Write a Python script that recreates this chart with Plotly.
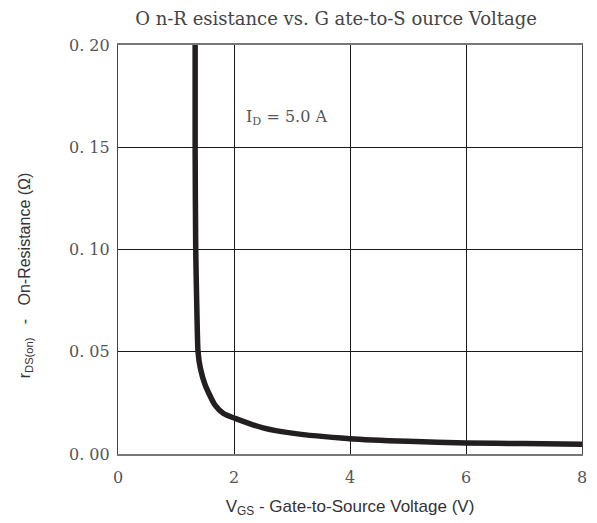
import plotly.graph_objects as go

# curve
VGS = [1.33, 1.33, 1.34, 1.36, 1.38, 1.42, 1.50, 1.67, 1.82, 2.02, 2.5, 3.0, 4.0, 5.0, 6.0, 7.0, 8.0]
RDS = [0.200, 0.150, 0.100, 0.070, 0.050, 0.042, 0.034, 0.024, 0.0198, 0.0174, 0.0128, 0.0102, 0.0075, 0.0062, 0.0054, 0.0051, 0.0048]

X_TICKS = [0, 2, 4, 6, 8]
Y_TICKS = [0.0, 0.05, 0.10, 0.15, 0.20]
Y_TICK_TEXT = ["0. 00", "0. 05", "0. 10", "0. 15", "0. 20"]

SERIF = "DejaVu Serif, Liberation Serif, serif"
SANS = "Liberation Sans, Arial, sans-serif"
GRID = "#1a1a1a"

fig = go.Figure(go.Scatter(
    x=VGS,
    y=RDS,
    mode="lines",
    line=dict(color="#231f20", width=5.5, shape="spline", smoothing=0.6),
    hoverinfo="skip",
    showlegend=False,
))

fig.add_annotation(
    x=2.9, y=0.1646, xref="x", yref="y",
    text="I<sub>D</sub> = 5.0 A",
    showarrow=False,
    bgcolor="white",
    font=dict(family=SERIF, size=16, color="#555555"),
)

# y-axis title placed as an annotation (sits lower than the plot centre)
fig.add_annotation(
    x=0, y=0.437, xref="paper", yref="paper",
    xanchor="center", yanchor="middle", xshift=-93,
    textangle=-90,
    text="r<sub>DS(on)</sub>   -   On-Resistance (Ω)",
    showarrow=False,
    font=dict(family=SANS, size=16, color="#333333"),
)

fig.update_layout(
    width=589,
    height=515,
    paper_bgcolor="white",
    plot_bgcolor="white",
    margin=dict(l=110, r=10, t=37, b=68),
    title=dict(
        text="O n-R esistance vs. G ate-to-S ource Voltage",
        xref="paper", x=0.47, xanchor="center",
        yref="container", y=0.98, yanchor="middle",
        font=dict(family=SERIF, size=18, color="#444444"),
    ),
    xaxis=dict(
        range=[0, 8],
        tickvals=X_TICKS,
        showgrid=True, gridcolor=GRID, gridwidth=1,
        zeroline=False,
        showline=True, linecolor="#777777", linewidth=1.5, mirror=True,
        ticks="outside", ticklen=8, tickcolor="rgba(0,0,0,0)",
        tickfont=dict(family=SERIF, size=16, color="#555555"),
        title=dict(
            text="V<sub>GS</sub> - Gate-to-Source Voltage (V)",
            font=dict(family=SANS, size=17, color="#333333"),
            standoff=14,
        ),
    ),
    yaxis=dict(
        range=[0, 0.2],
        tickvals=Y_TICKS,
        ticktext=Y_TICK_TEXT,
        showgrid=True, gridcolor=GRID, gridwidth=1,
        zeroline=False,
        showline=True, linecolor="#444444", linewidth=1.2, mirror=True,
        ticks="outside", ticklen=4, tickcolor="rgba(0,0,0,0)",
        tickfont=dict(family=SERIF, size=16, color="#555555"),
    ),
)

fig.write_html("out.html")
